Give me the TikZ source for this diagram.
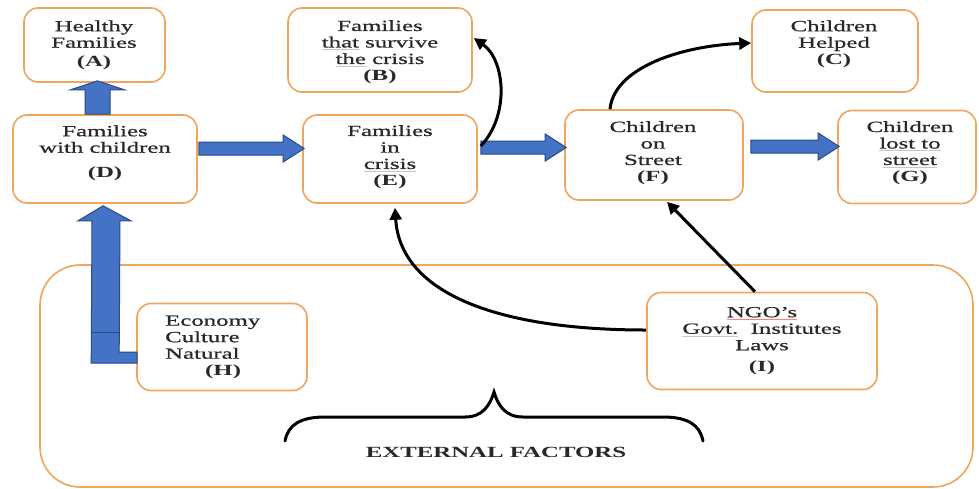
\documentclass[tikz,border=0pt]{standalone}
\usepackage{fontspec}
\setmainfont{Liberation Serif}[FakeStretch=1.6,UprightFeatures={FakeBold=0.7}]
\usetikzlibrary{arrows.meta,calc}
\definecolor{boxorange}{RGB}{240,165,95}
\definecolor{bluefill}{RGB}{68,114,196}
\definecolor{blueedge}{RGB}{40,75,140}
\definecolor{txt}{RGB}{40,40,40}
\newcommand\ulmark[2][gray!45]{\leavevmode\setbox0\hbox{#2}\rlap{\color{#1}\rule[-2.5pt]{\wd0}{0.6pt}}\box0}
\newcommand\harrow[2]{\path[barrow] ($(#1)+(0,-6.5)$) -- ($(#2)+(-21,-6.5)$) -- ($(#2)+(-21,-13.5)$) -- (#2) -- ($(#2)+(-21,13.5)$) -- ($(#2)+(-21,6.5)$) -- ($(#1)+(0,6.5)$) -- cycle;}
\begin{document}
\begin{tikzpicture}[x=1pt,y=-1pt,
  box/.style={draw=boxorange,line width=1.6pt,rounded corners=14pt,fill=white,inner sep=0pt},
  lbl/.style={align=center,text=txt,font=\fontsize{15.5}{16.5}\selectfont,inner sep=0pt},
  blk/.style={line width=3pt,-{Triangle[length=12pt,width=12pt]}},
  barrow/.style={fill=bluefill,draw=blueedge,line width=1pt,line join=miter}]
\useasboundingbox (0,0) rectangle (979,488);
\fill[white] (0,0) rectangle (979,488);
% outer box
\node[box,rounded corners=40pt,minimum width=933pt,minimum height=222pt] (ext) at (506.5,376) {};
% boxes
\node[box,minimum width=141pt,minimum height=74pt] (A) at (94.5,45) {};
\node[box,minimum width=184pt,minimum height=84pt] (B) at (380,50) {};
\node[box,minimum width=166pt,minimum height=82pt] (C) at (835,51) {};
\node[box,minimum width=184pt,minimum height=88pt] (D) at (105,159) {};
\node[box,minimum width=174pt,minimum height=88pt] (E) at (390,159) {};
\node[box,minimum width=178pt,minimum height=90pt] (F) at (654,155) {};
\node[box,minimum width=138pt,minimum height=93pt] (G) at (907,157) {};
\node[box,minimum width=170pt,minimum height=87pt] (H) at (222,347) {};
\node[box,minimum width=230pt,minimum height=97pt] (I) at (762,341) {};
% texts
\node[lbl] (At) at (94,45) {Healthy\\Families\\[2pt]\textbf{(A)}};
\node[lbl] (Bt) at (380,52) {Families\\\ulmark{that}\ survive\\\ulmark{the}\ crisis\\\textbf{(B)}};
\node[lbl] (Ct) at (834,44) {Children\\Helped\\\textbf{(C)}};
\node[lbl] (Dt) at (105,153) {Families\\with children\\[8pt]\textbf{(D)}};
\node[lbl] (Et) at (390,157) {Families\\in\\\ulmark{crisis}\\\textbf{(E)}};
\node[lbl] (Ft) at (653,153) {Children\\on\\Street\\\textbf{(F)}};
\node[lbl] (Gt) at (910,153) {Children\\\ulmark{lost to}\\\ulmark{street}\\\textbf{(G)}};
\node[lbl,align=left,anchor=west] (Ht) at (165,347) {Economy\\Culture\\Natural\\\hspace*{40pt}\textbf{(H)}};
\node[lbl] (It) at (762,341) {\ulmark[red!50]{NGO's}\\\ulmark{Govt.}\ \ Institutes\\Laws\\[5pt]\textbf{(I)}};
% blue block arrows
\coordinate (deS) at ($(D.east)+(1,-10.5)$);
\coordinate (deT) at ($(deS -| E.west)+(2,0)$);
\harrow{deS}{deT}
\coordinate (efS) at ($(E.east)+(3,-11.5)$);
\coordinate (efT) at ($(efS -| F.west)+(2,0)$);
\harrow{efS}{efT}
\coordinate (fgS) at ($(F.east)+(7,-8.5)$);
\coordinate (fgT) at ($(fgS -| G.west)+(2,0)$);
\harrow{fgS}{fgT}
% D -> A
\coordinate (daS) at ($(D.north)+(-7.5,0)$);
\coordinate (daT) at ($(daS |- A.south)+(0,-2)$);
\path[barrow] ($(daS)+(-12.5,0)$) -- ($(daT)+(-12.5,9)$) -- ($(daT)+(-27,9)$) -- (daT) -- ($(daT)+(27,9)$) -- ($(daT)+(12.5,9)$) -- ($(daS)+(12.5,0)$) -- cycle;
% H -> D (bent)
\coordinate (hdT) at ($(D.south)+(-2,2)$);
\coordinate (hdC) at ($(H.west)+(1,0)$);
\path[barrow] (hdT) -- ($(hdT)+(28,15)$) -- ($(hdT)+(17,15)$) -- ($(hdC)+(-18,5)$) -- ($(hdC)+(0,5)$) -- ($(hdC)+(0,16)$) -- ($(hdC)+(-46,16)$) -- ($(hdT)+(-11,15)$) -- ($(hdT)+(-25,15)$) -- cycle;
\draw[blueedge,line width=1pt] ($(hdC)+(-46,-15)$) -- ($(hdC)+(-18,-15)$);
% black curved arrows
\draw[blk] ($(E.east)+(3,-13)$) .. controls (510,115) and (505,60) .. ($(B.east)+(1,-12)$);
\draw[blk] ($(F.north)+(-44,0)$) .. controls (614,68) and (680,46) .. ($(C.west)+(0,-8)$);
\draw[blk] ($(I.west)+(0,-11)$) .. controls (490,330) and (400,290) .. ($(E.south)+(5,4)$);
\draw[blk] ($(I.north)+(-7,0)$) -- ($(F.south)+(13,1)$);
% brace
\draw[line width=3pt,line cap=round] (285,441) .. controls (288,425) and (300,417) .. (325,417) -- (465,417) .. controls (483,417) and (490,405) .. (494,392) .. controls (498,405) and (505,417) .. (523,417) -- (663,417) .. controls (688,417) and (700,425) .. (703,441);
\node[text=txt,inner sep=0pt,font=\bfseries\fontsize{15.5}{16}\selectfont] (ef) at (496,452) {EXTERNAL FACTORS};
\end{tikzpicture}
\end{document}
